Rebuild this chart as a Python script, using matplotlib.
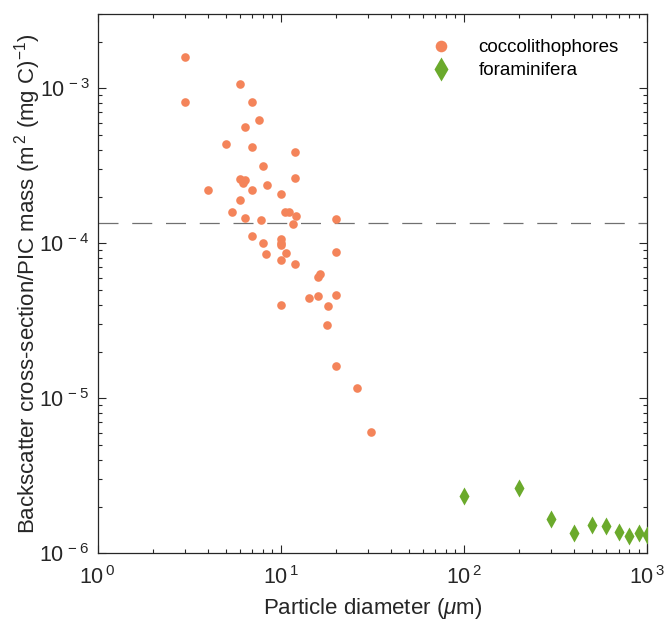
import math
import matplotlib
matplotlib.use('Agg')
import matplotlib.pyplot as plt
from matplotlib.ticker import LogLocator, FuncFormatter, NullFormatter

plt.rcParams['font.family'] = ['Liberation Sans', 'DejaVu Sans']
plt.rcParams['mathtext.fontset'] = 'custom'
plt.rcParams['mathtext.rm'] = 'Liberation Sans'
plt.rcParams['mathtext.it'] = 'Liberation Sans:italic'

# coccolithophores: particle diameter (um) and backscatter / PIC mass
cocco_d = [3, 3, 6, 7, 7.6, 6.4, 5, 7, 12, 8, 6, 6.4, 6.2, 12, 4, 7, 8.4, 10,
           6, 5.4, 10.5, 11.1, 12.1, 11.7, 6.4, 7.8, 20, 7, 8, 10, 10, 10,
           8.3, 10.7, 20, 10, 12, 15.9, 16.5, 14.3, 16, 20, 18.2, 10, 18,
           20, 26, 31]
cocco_b = [1.58e-3, 8.2e-4, 1.07e-3, 8.2e-4, 6.2e-4, 5.6e-4, 4.4e-4, 4.2e-4,
           3.9e-4, 3.16e-4, 2.6e-4, 2.57e-4, 2.45e-4, 2.62e-4, 2.21e-4,
           2.21e-4, 2.38e-4, 2.07e-4, 1.89e-4, 1.6e-4, 1.58e-4, 1.6e-4,
           1.51e-4, 1.34e-4, 1.45e-4, 1.42e-4, 1.43e-4, 1.11e-4, 1.01e-4,
           1.06e-4, 1.01e-4, 9.7e-5, 8.5e-5, 8.65e-5, 8.8e-5, 7.8e-5, 7.3e-5,
           6.1e-5, 6.36e-5, 4.43e-5, 4.58e-5, 4.65e-5, 3.93e-5, 3.97e-5,
           2.96e-5, 1.61e-5, 1.17e-5, 6.1e-6]

# foraminifera
foram_d = [100, 200, 300, 400, 500, 600, 700, 800, 900, 1000]
foram_b = [2.34e-6, 2.63e-6, 1.66e-6, 1.35e-6, 1.53e-6, 1.51e-6, 1.37e-6,
           1.29e-6, 1.35e-6, 1.32e-6]

ref_level = 1.35e-4

fig = plt.figure(figsize=(6.66, 6.24), dpi=100)
ax = fig.add_axes([0.1464, 0.1133, 0.825, 0.8638])

ax.axhline(ref_level, color='#707070', lw=0.9, dashes=(16, 11), zorder=1)
ax.plot(cocco_d, cocco_b, 'o', color='#F4845A', mec='none', ms=6.2,
        label='coccolithophores', zorder=3)
ax.plot(foram_d, foram_b, 'd', color='#6BAA2C', mec='none', ms=9,
        label='foraminifera', zorder=3)

ax.set_xscale('log')
ax.set_yscale('log')
ax.set_xlim(1, 1000)
ax.set_ylim(1e-6, 3e-3)

fmt = FuncFormatter(lambda v, p: r'$10^{\,%d}$' % round(math.log10(v)))
ax.xaxis.set_major_locator(LogLocator(base=10, numticks=10))
ax.yaxis.set_major_locator(LogLocator(base=10, numticks=10))
ax.xaxis.set_major_formatter(fmt)
ax.yaxis.set_major_formatter(fmt)
ax.xaxis.set_minor_locator(LogLocator(base=10, subs=range(2, 10), numticks=20))
ax.yaxis.set_minor_locator(LogLocator(base=10, subs=range(2, 10), numticks=20))
ax.xaxis.set_minor_formatter(NullFormatter())
ax.yaxis.set_minor_formatter(NullFormatter())

for s in ax.spines.values():
    s.set_color('#262626')
    s.set_linewidth(0.9)
ax.tick_params(which='both', direction='in', top=True, right=True,
               colors='#262626', labelsize=15.5, width=0.8)
ax.tick_params(which='major', length=5.5)
ax.tick_params(which='minor', length=2.8)
ax.tick_params(axis='x', pad=9)
ax.tick_params(axis='y', pad=6)

ax.set_xlabel(r'Particle diameter ($\mu$m)', fontsize=16, color='#262626',
              labelpad=5)
ax.set_ylabel(r'Backscatter cross-section/PIC mass (m$^{\,2}$ (mg C)$^{-1}$)',
              fontsize=16, color='#262626')
ax.yaxis.set_label_coords(-0.10, 0.5)

ax.legend(loc='upper left', bbox_to_anchor=(0.56, 0.985), frameon=False,
          fontsize=13.5, handletextpad=1.0, labelspacing=0.3, numpoints=1,
          markerscale=1.35)

fig.savefig('out.png', dpi=100)
